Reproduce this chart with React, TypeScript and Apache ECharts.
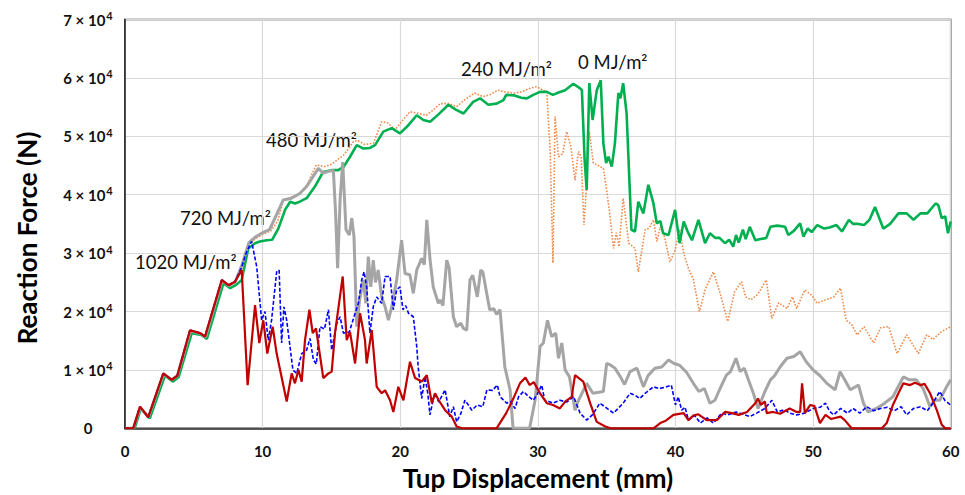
import React, { useEffect, useRef } from "react";
import * as echarts from "echarts";

// Displacement (mm) / Reaction force (kN) pairs
const series0MJ: [number, number][] = [
  [0,0],[0.7,0],[1.15,3.4],[1.8,1.7],[2.9,9.0],[3.5,8.0],[3.9,8.8],[4.85,16.3],[5.55,16.0],[5.95,15.3],[7.15,24.8],[7.65,24.0],[8.1,24.6],[8.48,25.4],[8.96,30.8],[9.45,31.7],[9.8,32.0],[10.3,32.2],[10.7,32.3],[11.14,34.2],[11.63,37.4],[12.0,38.8],[12.35,38.5],[12.7,38.8],[13.2,39.4],[13.8,41.4],[14.4,43.9],[15.0,44.2],[15.5,44.2],[15.9,44.8],[16.35,46.5],[16.84,48.5],[17.32,47.9],[17.8,48.0],[18.17,48.5],[18.77,50.8],[19.38,51.4],[19.98,50.5],[20.59,51.9],[21.2,53.6],[21.68,52.8],[22.17,52.5],[22.8,53.8],[23.5,55.4],[24.0,54.6],[24.6,53.9],[25.3,55.9],[25.8,56.5],[26.4,55.4],[27.0,55.6],[27.5,56.2],[27.7,57.1],[28.3,57.0],[28.8,56.6],[29.2,56.5],[29.67,57.1],[30.16,57.6],[30.65,57.6],[31.1,57.1],[31.5,57.5],[31.98,57.9],[32.58,59.0],[33.07,58.2],[33.2,57.9],[33.4,45.9],[33.55,40.8],[33.74,59.1],[33.98,52.8],[34.28,57.9],[34.57,59.6],[34.76,48.8],[34.96,45.4],[35.13,46.5],[35.37,44.8],[35.6,48.8],[35.85,57.4],[36.0,56.5],[36.2,59.1],[36.45,53.9],[36.8,34.0],[37.06,33.7],[37.3,38.8],[37.67,36.8],[38.03,41.7],[38.4,38.5],[38.64,35.1],[38.9,35.5],[39.1,33.4],[39.5,33.1],[39.97,37.4],[40.3,31.7],[40.6,35.4],[40.9,33.6],[41.2,32.2],[41.67,35.7],[42.15,31.7],[42.5,33.4],[42.9,32.6],[43.2,32.6],[43.6,31.7],[43.9,32.3],[44.2,31.1],[44.4,33.1],[44.6,31.8],[44.9,34.0],[45.1,32.4],[45.4,34.5],[45.8,32.2],[46.2,32.4],[46.6,32.6],[46.9,34.5],[47.4,34.7],[47.96,34.5],[48.2,33.1],[48.6,33.8],[49.06,35.1],[49.3,32.8],[49.6,34.2],[49.9,33.6],[50.3,34.8],[50.8,34.2],[51.2,34.4],[51.7,34.8],[52.1,33.7],[52.6,35.7],[52.9,35.0],[53.3,35.0],[53.7,34.8],[54.1,35.7],[54.5,37.9],[55.1,34.2],[55.6,35.0],[56.2,36.8],[56.8,36.8],[57.3,35.7],[57.8,36.8],[58.3,36.8],[58.9,38.5],[59.1,38.2],[59.35,36.0],[59.6,36.3],[59.8,33.4],[60,35.4]
];

const series240MJ: [number, number][] = [
  [0,0],[0.6,0],[1.1,3.6],[1.7,1.9],[2.8,9.3],[3.4,8.3],[3.8,9.0],[4.75,16.7],[5.5,16.2],[5.85,15.6],[7.05,25.3],[7.55,24.4],[8.0,25.0],[8.5,27.5],[9.0,31.5],[9.5,32.5],[10.0,33.2],[10.6,33.8],[11.1,35.5],[11.5,39.0],[12.1,39.6],[12.7,40.2],[13.2,41.6],[13.9,45.1],[14.5,44.8],[15.0,45.2],[15.4,45.9],[15.9,46.8],[16.6,49.1],[16.9,49.3],[17.4,48.6],[18.05,48.8],[18.65,52.5],[19.1,52.3],[19.62,51.1],[20.1,52.5],[20.7,54.2],[21.2,54.0],[21.9,53.6],[22.4,54.5],[22.9,55.6],[23.5,55.6],[24.1,55.1],[24.83,56.5],[25.4,57.4],[26.0,56.8],[26.5,57.1],[27.1,57.9],[27.6,57.6],[28.3,57.4],[28.8,57.6],[29.4,58.2],[29.9,58.5],[30.4,57.9],[30.65,57.6],[30.9,47.1],[31.1,28.3],[31.25,53.4],[31.5,46.5],[31.8,47.0],[32.1,50.8],[32.4,48.2],[32.7,42.5],[32.95,47.4],[33.15,46.5],[33.35,34.8],[33.55,42.0],[33.74,50.8],[34.03,45.4],[34.4,45.0],[34.76,44.5],[35.0,40.8],[35.25,36.2],[35.5,30.8],[35.7,33.5],[35.9,31.1],[36.2,39.4],[36.6,31.7],[37.06,30.8],[37.3,26.8],[37.8,34.0],[38.1,34.3],[38.4,35.7],[38.65,32.0],[38.9,34.5],[39.2,32.8],[39.6,28.5],[39.97,30.5],[40.3,34.0],[40.6,30.0],[40.94,27.4],[41.3,25.5],[41.74,20.0],[42.15,23.7],[42.75,26.8],[43.2,23.5],[43.8,18.3],[44.3,23.4],[44.8,25.1],[45.1,22.5],[45.5,22.0],[46.0,23.0],[46.6,25.4],[47.0,18.8],[47.5,21.5],[48.1,20.5],[48.5,22.5],[48.8,20.5],[49.4,23.7],[49.9,22.8],[50.3,21.4],[50.9,22.0],[51.5,22.5],[52.0,24.0],[52.4,18.5],[52.8,17.8],[53.2,16.0],[53.7,17.4],[54.4,14.6],[54.9,17.2],[55.5,17.4],[56.1,12.8],[56.8,16.0],[57.2,14.5],[57.65,12.8],[58.26,16.0],[58.7,15.2],[59.3,16.5],[60,17.4]
];

const series480MJ: [number, number][] = [
  [0,0],[0.6,0],[1.1,3.6],[1.7,1.9],[2.8,9.3],[3.4,8.3],[3.8,9.0],[4.75,16.7],[5.5,16.2],[5.85,15.6],[7.05,25.3],[7.55,24.4],[8.0,25.0],[8.5,28.0],[9.0,31.8],[9.5,32.8],[9.93,33.4],[10.5,34.0],[11.0,36.5],[11.5,39.1],[12.1,39.4],[12.7,40.2],[13.2,41.4],[14.05,44.5],[14.4,43.7],[14.8,44.0],[15.14,44.2],[15.3,37.0],[15.45,27.4],[15.63,39.1],[15.82,45.6],[16.06,34.0],[16.3,33.1],[16.48,36.0],[16.64,32.8],[16.84,17.4],[17.05,22.0],[17.32,25.4],[17.5,21.4],[17.68,29.4],[17.86,24.2],[18.04,28.8],[18.2,25.0],[18.4,27.1],[18.65,22.5],[18.9,20.8],[19.14,18.5],[19.4,21.0],[19.74,25.4],[20.1,32.2],[20.35,26.5],[20.7,26.3],[20.95,23.1],[21.2,27.1],[21.56,29.1],[21.75,28.0],[21.93,35.7],[22.17,28.8],[22.4,24.2],[22.77,21.4],[22.9,22.0],[23.1,21.0],[23.38,28.8],[23.55,27.5],[23.86,19.1],[24.1,17.4],[24.4,18.0],[24.6,17.1],[24.83,16.8],[25.07,25.4],[25.27,26.2],[25.6,22.5],[25.85,27.1],[26.0,26.8],[26.5,20.3],[26.8,20.5],[27.0,19.5],[27.25,20.3],[27.6,10.5],[27.98,6.6],[28.2,0],[29.4,0],[29.8,4.8],[30.16,14.0],[30.4,14.6],[30.7,18.5],[31.0,15.7],[31.3,16.3],[31.5,12.0],[31.74,14.6],[31.98,10.0],[32.3,8.8],[32.7,3.1],[32.9,4.5],[33.55,7.7],[34.0,6.0],[34.76,6.3],[35.0,11.1],[35.3,10.8],[35.6,10.3],[36.0,8.8],[36.3,7.5],[36.7,9.7],[37.2,10.3],[37.67,7.1],[38.0,9.0],[38.5,10.3],[39.0,10.5],[39.5,11.7],[39.9,11.1],[40.3,10.8],[40.8,9.6],[41.3,7.7],[41.7,6.3],[42.1,6.8],[42.5,4.3],[42.87,4.8],[43.2,6.6],[43.7,9.1],[44.0,9.7],[44.4,12.0],[44.7,9.7],[45.0,10.3],[45.3,8.3],[45.66,6.0],[46.0,3.4],[46.5,6.3],[46.9,8.3],[47.2,9.0],[47.6,10.5],[48.1,12.0],[48.6,12.3],[49.06,13.1],[49.5,11.4],[50.0,10.0],[50.5,9.0],[51.0,7.7],[51.6,6.6],[51.96,9.7],[52.3,8.3],[52.7,6.6],[53.3,7.4],[53.66,4.3],[54.0,2.8],[54.6,3.4],[55.2,4.3],[55.8,5.4],[56.56,8.8],[57.0,8.3],[57.5,8.3],[58.0,6.8],[58.5,3.7],[58.8,4.8],[59.2,4.8],[59.7,7.1],[60,8.3]
];

const series720MJ: [number, number][] = [
  [0,0],[0.6,0],[1.09,3.7],[1.69,1.9],[2.78,9.4],[3.39,8.3],[3.8,9.0],[4.72,16.8],[5.45,16.3],[5.81,15.7],[7.03,25.4],[7.51,24.5],[7.99,25.1],[8.48,27.6],[8.8,30.0],[9.2,32.0],[9.57,27.7],[9.93,18.5],[10.17,20.0],[10.41,15.1],[10.65,18.5],[11.02,26.8],[11.2,27.1],[11.38,14.6],[11.55,20.8],[11.75,18.5],[11.99,14.0],[12.2,10.0],[12.48,9.4],[12.84,12.8],[13.2,13.4],[13.44,15.4],[13.69,11.7],[13.9,11.0],[14.17,17.4],[14.5,17.0],[14.78,20.3],[15.02,13.4],[15.39,18.0],[15.63,19.1],[15.87,16.3],[16.3,16.5],[16.72,19.7],[16.96,21.4],[17.2,25.4],[17.37,26.8],[17.56,24.2],[17.8,16.3],[18.04,20.8],[18.29,22.5],[18.65,21.4],[18.9,26.0],[19.26,26.0],[19.5,20.3],[19.74,23.7],[19.98,24.2],[20.2,20.3],[20.4,21.0],[20.6,19.7],[20.95,19.1],[21.2,14.0],[21.3,10.6],[21.56,5.1],[21.8,8.8],[22.0,6.0],[22.16,2.3],[22.5,6.0],[22.8,4.5],[23.26,6.6],[23.6,2.0],[23.86,3.7],[24.1,1.1],[24.4,2.5],[24.7,4.8],[24.95,4.0],[25.2,3.1],[25.6,4.0],[26.0,3.7],[26.3,6.6],[26.7,6.5],[27.06,7.4],[27.25,5.4],[27.74,4.3],[28.0,4.6],[28.34,3.4],[28.6,5.4],[28.95,6.3],[29.3,5.5],[29.67,4.8],[29.95,5.8],[30.28,7.4],[30.5,4.8],[30.8,4.6],[31.1,4.3],[31.6,4.8],[32.1,4.5],[32.6,5.4],[33.07,2.6],[33.55,1.4],[34.0,2.4],[34.5,4.3],[34.8,3.8],[35.5,2.6],[36.2,4.3],[36.7,6.0],[37.1,5.6],[37.4,5.1],[37.8,6.0],[38.4,7.1],[38.8,6.8],[39.2,7.0],[39.7,7.4],[40.0,4.0],[40.2,5.4],[40.45,3.1],[40.7,3.6],[40.94,1.4],[41.4,2.2],[41.8,0.9],[42.3,1.8],[42.75,0.9],[43.36,2.6],[43.8,2.3],[44.4,2.8],[44.9,2.4],[45.4,2.0],[45.9,2.6],[46.5,3.4],[47.0,4.8],[47.4,2.8],[47.9,3.2],[48.3,2.6],[48.8,2.3],[49.4,2.6],[50.0,3.4],[50.5,3.6],[50.9,4.3],[51.2,2.9],[51.5,2.3],[52.0,3.4],[52.5,2.6],[52.9,3.4],[53.4,2.6],[53.9,3.7],[54.4,3.0],[54.9,3.4],[55.4,3.6],[55.9,3.0],[56.4,3.7],[56.8,2.3],[57.3,3.4],[57.8,3.7],[58.3,3.0],[58.7,4.3],[59.2,6.3],[59.6,4.7],[60,4.0]
];

const series1020MJ: [number, number][] = [
  [0,0],[0.6,0],[1.09,3.7],[1.69,1.9],[2.78,9.4],[3.39,8.3],[3.8,9.0],[4.72,16.8],[5.45,16.3],[5.81,15.7],[7.03,25.4],[7.51,24.5],[7.99,25.1],[8.48,27.1],[8.91,7.4],[9.45,21.1],[9.76,14.6],[10.05,18.5],[10.34,12.8],[10.73,17.4],[11.02,12.8],[11.75,4.6],[12.11,9.4],[12.35,7.7],[12.6,10.0],[12.84,8.0],[13.08,15.1],[13.4,20.3],[13.64,16.3],[13.88,17.1],[14.41,8.6],[14.78,9.4],[15.02,9.7],[15.26,16.3],[15.82,26.0],[16.11,15.1],[16.35,16.5],[16.72,11.1],[17.08,19.7],[17.44,15.1],[17.56,11.1],[17.93,16.8],[18.29,7.1],[18.65,6.0],[18.9,6.5],[19.26,4.8],[19.5,2.8],[19.86,7.1],[20.23,4.8],[20.71,11.4],[21.08,8.6],[21.56,8.0],[21.93,9.1],[22.3,4.3],[22.53,6.0],[22.8,4.8],[23.26,3.1],[23.74,2.0],[24.1,0.3],[24.5,0],[27.0,0],[27.7,2.6],[28.2,5.0],[28.7,7.7],[29.1,8.7],[29.4,7.4],[29.7,7.9],[30.16,6.0],[30.65,4.3],[31.1,4.0],[31.6,3.4],[32.0,4.6],[32.46,5.4],[32.7,9.1],[33.3,8.0],[33.8,4.3],[34.28,1.1],[34.9,0.3],[35.3,0],[38.4,0],[38.9,0.9],[39.3,1.3],[39.85,2.3],[40.6,2.6],[40.94,1.4],[41.3,2.2],[41.66,2.4],[42.27,1.4],[43.0,1.4],[43.6,2.8],[44.1,2.6],[44.6,2.3],[45.2,2.8],[45.8,4.3],[46.0,5.1],[46.2,4.0],[46.5,4.6],[46.63,2.6],[47.1,2.8],[47.6,2.5],[48.3,3.4],[48.8,2.8],[49.06,2.8],[49.2,7.7],[49.4,2.6],[49.8,4.0],[50.1,3.8],[50.5,0.9],[50.9,2.3],[51.3,1.6],[52.0,2.0],[52.3,1.4],[52.8,0],[55.0,0],[55.35,0.9],[55.8,4.0],[56.2,6.0],[56.56,7.7],[57.05,7.4],[57.4,7.8],[57.8,7.4],[58.1,7.6],[58.5,6.0],[58.99,3.1],[59.35,0.6],[59.6,0],[60,0]
];

const seriesNames = ["0 MJ/m²", "240 MJ/m²", "480 MJ/m²", "720 MJ/m²", "1020 MJ/m²"];
const xTicks = [0, 10, 20, 30, 40, 50, 60];
const yTicksKN = [0, 10, 20, 30, 40, 50, 60, 70];

const FONT = "Lato, 'Open Sans', sans-serif";

export default function App() {
  const ref = useRef<HTMLDivElement>(null);
  useEffect(() => {
    if (!ref.current) return;
    const chart = echarts.init(ref.current, undefined, { renderer: "svg" });
    const N = (d: [number, number][]) => d.map(([x, y]) => [x, y * 1000]);
    const yMax = yTicksKN[yTicksKN.length - 1] * 1000;
    const label = (text: string, x: number, y: number) => ({
      type: "text",
      x,
      y,
      style: { text, font: `18.5px ${FONT}`, fill: "#111", textVerticalAlign: "middle" },
    });
    chart.setOption({
      animation: false,
      backgroundColor: "#fff",
      grid: {
        left: 125, right: 14.3, top: 19.5, bottom: 66.7,
        show: true, borderColor: "#333", borderWidth: 1.5, backgroundColor: "transparent",
      },
      xAxis: {
        type: "value",
        min: xTicks[0],
        max: xTicks[xTicks.length - 1],
        interval: 10,
        axisLine: { show: true, onZero: false, lineStyle: { color: "#222", width: 1.5 } },
        axisTick: { show: false },
        splitLine: { show: true, lineStyle: { color: "#d9d9d9", width: 1.2 } },
        axisLabel: { color: "#111", fontWeight: "bold", fontSize: 15, fontFamily: FONT, margin: 15 },
      },
      yAxis: {
        type: "value",
        min: 0,
        max: yMax,
        interval: 10000,
        axisLine: { show: true, lineStyle: { color: "#222", width: 1.5 } },
        axisTick: { show: false },
        splitLine: { show: true, lineStyle: { color: "#d9d9d9", width: 1.2 } },
        axisLabel: {
          align: "center",
          margin: 37,
          formatter: (v: number) => (v === 0 ? "{a|0}" : `{a|${v / 10000} × 10}{b|4}`),
          rich: {
            a: { color: "#111", fontWeight: "bold", fontSize: 15, fontFamily: FONT, lineHeight: 19 },
            b: { color: "#111", fontWeight: "bold", fontSize: 11, fontFamily: FONT, verticalAlign: "top", lineHeight: 19, padding: [0, 0, 0, 1] },
          },
        },
      },
      graphic: [
        {
          type: "text",
          x: 537.9,
          y: 478,
          style: { text: "Tup Displacement (mm)", font: `bold 26px ${FONT}`, fill: "#000", textAlign: "center", textVerticalAlign: "middle" },
        },
        {
          type: "text",
          x: 27,
          y: 238,
          rotation: Math.PI / 2,
          style: { text: "Reaction Force (N)", font: `bold 26px ${FONT}`, fill: "#000", textAlign: "center", textVerticalAlign: "middle" },
        },
        label(seriesNames[4], 135, 262),
        label(seriesNames[3], 180, 218),
        label(seriesNames[2], 266, 140),
        label(seriesNames[1], 461, 69),
        label(seriesNames[0], 578, 62),
      ],
      series: [
        {
          name: seriesNames[1], type: "line", data: N(series240MJ), showSymbol: false, z: 2,
          lineStyle: { color: "#F08A48", width: 1.6, type: "dotted" },
        },
        {
          name: seriesNames[0], type: "line", data: N(series0MJ), showSymbol: false, z: 3,
          lineStyle: { color: "#00B050", width: 2.6 },
        },
        {
          name: seriesNames[2], type: "line", data: N(series480MJ), showSymbol: false, z: 4,
          lineStyle: { color: "#A5A5A5", width: 3 },
        },
        {
          name: seriesNames[3], type: "line", data: N(series720MJ), showSymbol: false, z: 5,
          lineStyle: { color: "#0000FF", width: 1.6, type: [4, 2] },
        },
        {
          name: seriesNames[4], type: "line", data: N(series1020MJ), showSymbol: false, z: 6,
          lineStyle: { color: "#C00000", width: 2.2 },
        },
      ],
    });
    return () => chart.dispose();
  }, []);
  return (
    <div
      ref={ref}
      style={{ position: "fixed", left: 0, top: 0, width: 965, height: 495, background: "#fff" }}
    />
  );
}
